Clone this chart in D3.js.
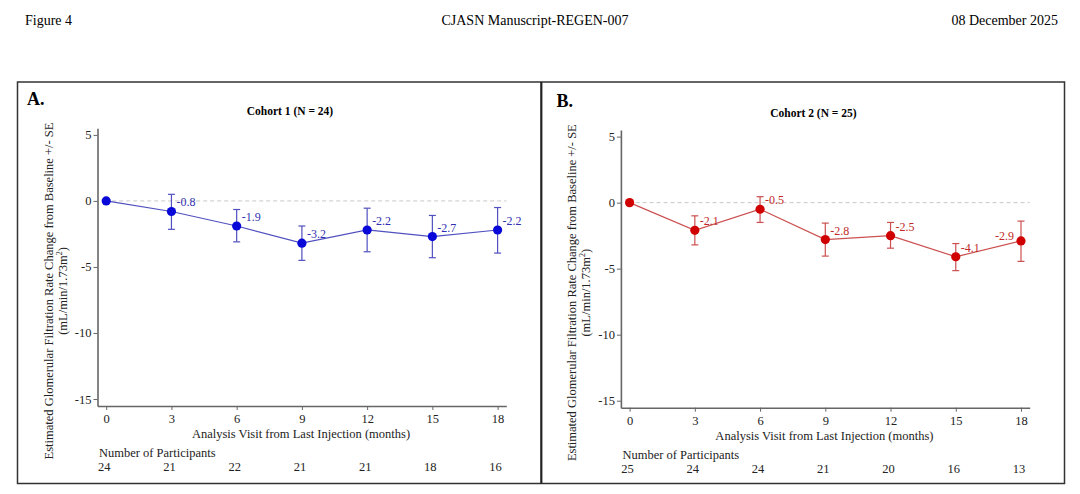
<!DOCTYPE html>
<html>
<head>
<meta charset="utf-8">
<script src="https://cdn.jsdelivr.net/npm/d3@7"></script>
<style>
  html, body { margin: 0; padding: 0; background: #fff; }
  svg { display: block; font-family: "Liberation Serif", "Times New Roman", serif; }
</style>
</head>
<body>
<svg id="chart" width="1080" height="494"></svg>
<script>
// ---- data ----
const months = [0, 3, 6, 9, 12, 15, 18];
const yTicks = [5, 0, -5, -10, -15];

const cohort1Title = "Cohort 1 (N = 24)";
const cohort1Mean = [0, -0.8, -1.9, -3.2, -2.2, -2.7, -2.2];
const cohort1Upper = [0, 0.5, -0.65, -1.9, -0.55, -1.1, -0.5];
const cohort1Lower = [0, -2.15, -3.1, -4.5, -3.85, -4.3, -3.95];
const cohort1N = [24, 21, 22, 21, 21, 18, 16];

const cohort2Title = "Cohort 2 (N = 25)";
const cohort2Mean = [0, -2.1, -0.5, -2.8, -2.5, -4.1, -2.9];
const cohort2Upper = [0, -1.0, 0.45, -1.55, -1.5, -3.1, -1.4];
const cohort2Lower = [0, -3.2, -1.5, -4.05, -3.45, -5.15, -4.45];
const cohort2N = [25, 24, 24, 21, 20, 16, 13];
const cohort2LabelSide = ["right", "right", "right", "right", "right", "right", "left"];

const headerLeft = "Figure 4";
const headerCenter = "CJASN Manuscript-REGEN-007";
const headerRight = "08 December 2025";
const yLabel1 = "Estimated Glomerular Filtration Rate Change from Baseline +/- SE";
const xLabel = "Analysis Visit from Last Injection (months)";
const nLabel = "Number of Participants";

// ---- drawing ----
const svg = d3.select("#chart");

// header
svg.append("text").attr("x", 25).attr("y", 25).attr("font-size", 14).text(headerLeft);
svg.append("text").attr("x", 535).attr("y", 25).attr("font-size", 14).attr("text-anchor", "middle").text(headerCenter);
svg.append("text").attr("x", 1058).attr("y", 25).attr("font-size", 14).attr("text-anchor", "end").text(headerRight);

// frames
svg.append("rect").attr("x", 17.5).attr("y", 82).attr("width", 1047).attr("height", 401.5)
  .attr("fill", "none").attr("stroke", "#333").attr("stroke-width", 1.5);
svg.append("line").attr("x1", 541.3).attr("x2", 541.3).attr("y1", 82).attr("y2", 483.5)
  .attr("stroke", "#222").attr("stroke-width", 2.2);

function drawPanel(opts) {
  const g = svg.append("g").attr("transform", `translate(${opts.tx},${opts.ty})`);
  const x = d3.scaleLinear().domain([-0.4, 18.4]).range([97.5, 506.3]);
  const y = d3.scaleLinear().domain([-15.53, 5.5]).range([406, 128.3]);

  // panel letter
  g.append("text").attr("x", opts.letterX).attr("y", 105).attr("font-size", 18)
    .attr("font-weight", "bold").text(opts.letter);
  // title
  g.append("text").attr("x", 290).attr("y", 115).attr("font-size", 11.5)
    .attr("font-weight", "bold").attr("text-anchor", "middle").text(opts.title);

  // y axis label
  const yl = g.append("text").attr("transform", `translate(53,291) rotate(-90)`)
    .attr("text-anchor", "middle").attr("font-size", 12.5).attr("fill", "#222");
  yl.append("tspan").attr("x", 0).attr("dy", 0).text(yLabel1);
  const l2 = yl.append("tspan").attr("x", 0).attr("dy", 14).text("(mL/min/1.73m");
  l2.append("tspan").attr("font-size", 8).attr("dy", -5).text("2");
  l2.append("tspan").attr("dy", 5).text(")");

  // zero reference line
  g.append("line").attr("x1", x(0) + 6).attr("x2", x(18.4))
    .attr("y1", y(0)).attr("y2", y(0))
    .attr("stroke", "#c8c8c8").attr("stroke-dasharray", "4,3").attr("stroke-width", 1);

  // axes
  const yAxis = d3.axisLeft(y).tickValues(yTicks).tickSize(4).tickSizeOuter(0).tickPadding(2)
    .tickFormat(d => d);
  const ga = g.append("g").attr("transform", `translate(${x.range()[0]},0)`).call(yAxis);
  const xAxis = d3.axisBottom(x).tickValues(months).tickSize(4).tickSizeOuter(0).tickPadding(4);
  const gx = g.append("g").attr("transform", `translate(0,${y.range()[0]})`).call(xAxis);
  [ga, gx].forEach(a => {
    a.select(".domain").attr("stroke", "#666").attr("stroke-width", 1.6);
    a.selectAll(".tick line").attr("stroke", "#666");
    a.selectAll(".tick text").attr("font-family", "Liberation Serif, serif")
      .attr("font-size", 12.5).attr("fill", "#222");
  });
  ga.selectAll(".tick text").text(d => d < 0 ? "-" + Math.abs(d) : d);

  // x label
  g.append("text").attr("x", 301).attr("y", 438).attr("text-anchor", "middle")
    .attr("font-size", 12.5).attr("fill", "#222").text(xLabel);
  // participants
  g.append("text").attr("x", 99).attr("y", 457).attr("font-size", 12.5).attr("fill", "#222").text(nLabel);
  g.selectAll(".nlab").data(opts.n).join("text").attr("class", "nlab")
    .attr("x", (d, i) => x(months[i]) - 2).attr("y", 471).attr("text-anchor", "middle")
    .attr("font-size", 12.5).attr("fill", "#222").text(d => d);

  const pts = months.map((m, i) => ({ m, v: opts.mean[i], lo: opts.lower[i], hi: opts.upper[i], side: opts.side ? opts.side[i] : "right" }));

  // line
  g.append("path").datum(pts)
    .attr("d", d3.line().x(d => x(d.m)).y(d => y(d.v)))
    .attr("fill", "none").attr("stroke", opts.lineColor).attr("stroke-width", 1.2);

  // error bars (skip baseline)
  const eb = g.selectAll(".eb").data(pts.filter(d => d.m > 0)).join("g").attr("class", "eb")
    .attr("stroke", opts.lineColor).attr("stroke-width", 1.2);
  eb.append("line").attr("x1", d => x(d.m)).attr("x2", d => x(d.m)).attr("y1", d => y(d.hi)).attr("y2", d => y(d.lo));
  eb.append("line").attr("x1", d => x(d.m) - 3.5).attr("x2", d => x(d.m) + 3.5).attr("y1", d => y(d.hi)).attr("y2", d => y(d.hi));
  eb.append("line").attr("x1", d => x(d.m) - 3.5).attr("x2", d => x(d.m) + 3.5).attr("y1", d => y(d.lo)).attr("y2", d => y(d.lo));

  // points
  g.selectAll(".pt").data(pts).join("circle").attr("class", "pt")
    .attr("cx", d => x(d.m)).attr("cy", d => y(d.v)).attr("r", 4.6).attr("fill", opts.pointColor);

  // value labels
  g.selectAll(".vl").data(pts.filter(d => d.m > 0)).join("text").attr("class", "vl")
    .attr("x", d => d.side === "left" ? x(d.m) - 7 : x(d.m) + 5)
    .attr("y", d => y(d.v) - (d.side === "left" ? 1 : 5))
    .attr("text-anchor", d => d.side === "left" ? "end" : "start")
    .attr("font-size", 12).attr("fill", opts.labelColor)
    .text(d => d.v.toFixed(1));
}

drawPanel({
  tx: 0, ty: 0, letter: "A.", letterX: 27, title: cohort1Title,
  mean: cohort1Mean, upper: cohort1Upper, lower: cohort1Lower, n: cohort1N,
  lineColor: "#5050c0", pointColor: "#0808d8", labelColor: "#3030b0"
});
drawPanel({
  tx: 523.4, ty: 1.7, letter: "B.", letterX: 33, title: cohort2Title,
  mean: cohort2Mean, upper: cohort2Upper, lower: cohort2Lower, n: cohort2N, side: cohort2LabelSide,
  lineColor: "#cc5050", pointColor: "#d00000", labelColor: "#c02828"
});
</script>
</body>
</html>
